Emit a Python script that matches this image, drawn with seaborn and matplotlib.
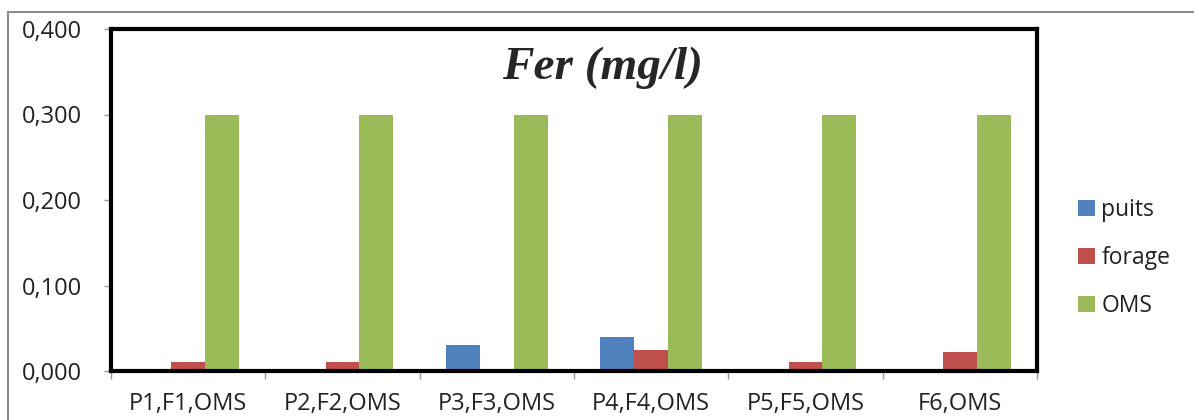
import pandas as pd
import numpy as np
import matplotlib
matplotlib.use('Agg')
import matplotlib.pyplot as plt
import seaborn as sns
from matplotlib.ticker import FuncFormatter, FixedLocator
from matplotlib.lines import Line2D

sns.set_style('white')
plt.rcParams['font.family'] = ['Open Sans', 'DejaVu Sans']

# Data
sites = ['P1,F1,OMS', 'P2,F2,OMS', 'P3,F3,OMS', 'P4,F4,OMS', 'P5,F5,OMS', 'F6,OMS']
puits = [0.0, 0.0, 0.030, 0.040, 0.0, 0.0]
forage = [0.011, 0.011, 0.0, 0.025, 0.010, 0.022]
oms = [0.300, 0.300, 0.300, 0.300, 0.300, 0.300]
series_names = ['puits', 'forage', 'OMS']
colors = ['#4F81BD', '#C0504D', '#9BBB59']

df = pd.DataFrame({'site': sites, 'puits': puits, 'forage': forage, 'OMS': oms})
long_df = df.melt(id_vars='site', value_vars=series_names, var_name='serie', value_name='fer')

fig = plt.figure(figsize=(11.94, 4.2), dpi=100)
ax = fig.add_axes([111 / 1194, 1 - 371 / 420, (1037 - 111) / 1194, (371 - 29) / 420])

sns.barplot(data=long_df, x='site', y='fer', hue='serie', hue_order=series_names,
            palette=colors, width=0.66, linewidth=0, saturation=1, ax=ax, errorbar=None)

ax.set_xlim(-0.5, len(sites) - 0.5)
ax.set_ylim(0, 0.4)
ax.set_yticks([0, 0.1, 0.2, 0.3, 0.4])
ax.yaxis.set_major_formatter(FuncFormatter(lambda v, p: f'{v:.3f}'.replace('.', ',')))
ax.set_xlabel('')
ax.set_ylabel('')

for s in ax.spines.values():
    s.set_color('black')
    s.set_linewidth(3)
    s.set_zorder(5)

ax.tick_params(axis='y', which='major', left=True, length=5, width=1, color='#999999',
               direction='out', labelsize=17, pad=16, labelcolor='#222222')
ax.tick_params(axis='x', which='major', length=0, labelsize=17, pad=15, labelcolor='#222222')
ax.xaxis.set_minor_locator(FixedLocator(np.arange(-0.5, len(sites), 1.0)))
ax.tick_params(axis='x', which='minor', bottom=True, length=6, width=1, color='#999999',
               direction='out')

# legend on the right
ax.get_legend().remove()
handles = [plt.Rectangle((0, 0), 1, 1, facecolor=c, edgecolor='none') for c in colors]
fig.legend(handles, series_names, loc='center left', bbox_to_anchor=(1078 / 1194, 1 - 258 / 420),
           bbox_transform=fig.transFigure, frameon=False, fontsize=16.5, borderpad=0,
           borderaxespad=0, labelspacing=1.05, handlelength=0.72, handleheight=0.72,
           handletextpad=0.3, labelcolor='#222222')

# title inside plot area
fig.text(602 / 1194, 1 - 68 / 420, 'Fer (mg/l)', ha='center', va='center',
         fontsize=34, fontweight='bold', fontstyle='italic', family=['Liberation Serif', 'DejaVu Serif'])

# outer chart border (gray)
fig.add_artist(Line2D([8 / 1194, 1], [1 - 12 / 420, 1 - 12 / 420], color='#8c8c8c', lw=1.5,
                      transform=fig.transFigure))
fig.add_artist(Line2D([8 / 1194, 8 / 1194], [0, 1 - 12 / 420], color='#8c8c8c', lw=1.5,
                      transform=fig.transFigure))

fig.savefig('out.png', dpi=100)
